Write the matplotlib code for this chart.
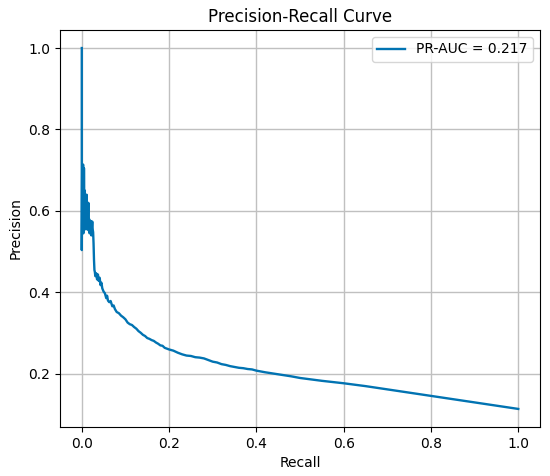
# coding: utf-8
# Import packages
import numpy as np
import matplotlib
matplotlib.use("Agg")
import matplotlib.pyplot as plt


# Recall / precision pairs
recall = [0.000, 0.000, 0.0005, 0.001, 0.0015, 0.002, 0.0025, 0.003, 0.0035,
          0.004, 0.0045, 0.005, 0.006, 0.007, 0.008, 0.009, 0.010, 0.011,
          0.012, 0.013, 0.014, 0.015, 0.016, 0.017, 0.018, 0.019, 0.020,
          0.021, 0.022, 0.023, 0.024, 0.025, 0.026, 0.027, 0.028, 0.029,
          0.030, 0.031, 0.033, 0.035, 0.037, 0.039, 0.041, 0.043, 0.045,
          0.047, 0.050, 0.053, 0.056, 0.058, 0.060, 0.063, 0.066, 0.070,
          0.073, 0.076, 0.080, 0.085, 0.090, 0.095, 0.100, 0.105, 0.110,
          0.115, 0.120, 0.125, 0.130, 0.135, 0.140, 0.145, 0.150, 0.155,
          0.160, 0.165, 0.170, 0.175, 0.180, 0.185, 0.190, 0.200, 0.210,
          0.220, 0.230, 0.240, 0.250, 0.260, 0.270, 0.280, 0.290, 0.300,
          0.310, 0.320, 0.330, 0.340, 0.350, 0.360, 0.370, 0.380, 0.390,
          0.400, 0.420, 0.450, 0.480, 0.500, 0.550, 0.600,
          0.650, 0.700, 0.750, 0.800, 0.850, 0.900, 0.950, 1.000]

precision = [1.000, 0.504, 0.600, 0.712, 0.560, 0.700, 0.590, 0.714, 0.545,
             0.690, 0.570, 0.705, 0.560, 0.650, 0.555, 0.620, 0.570, 0.640,
             0.555, 0.600, 0.560, 0.620, 0.552, 0.580, 0.545, 0.570, 0.555,
             0.575, 0.540, 0.560, 0.574, 0.555, 0.548, 0.520, 0.480, 0.455,
             0.450, 0.440, 0.447, 0.432, 0.444, 0.428, 0.436, 0.418, 0.424,
             0.410, 0.402, 0.398, 0.386, 0.392, 0.380, 0.376, 0.379, 0.366,
             0.368, 0.359, 0.352, 0.349, 0.343, 0.339, 0.334, 0.326, 0.322,
             0.320, 0.315, 0.311, 0.305, 0.301, 0.296, 0.293, 0.288, 0.286,
             0.283, 0.281, 0.277, 0.274, 0.270, 0.269, 0.264, 0.260, 0.257,
             0.252, 0.248, 0.245, 0.244, 0.241, 0.240, 0.238, 0.234, 0.230,
             0.228, 0.224, 0.222, 0.219, 0.217, 0.215, 0.214, 0.212, 0.211,
             0.208, 0.204, 0.199, 0.194, 0.190, 0.183, 0.177,
             0.170, 0.162, 0.154, 0.146, 0.138, 0.130, 0.122, 0.114]

pr_auc = 0.217


def plot_pr_curve(recall, precision, pr_auc, path):
    '''
    ------------------------
    Input: recall, precision, area under curve
    Output: PR curve saved to path
    ------------------------
    '''
    fig = plt.figure(figsize=(5.5, 4.76), dpi=100)
    ax = fig.add_axes([0.109, 0.103, 0.873, 0.834])

    # Plot the curve
    ax.plot(recall, precision, color="#0173b2", linewidth=1.7,
            label="PR-AUC = {:.3f}".format(pr_auc))

    # Add annotations
    ax.set_xlabel("Recall", fontsize=10)
    ax.set_ylabel("Precision", fontsize=10)
    ax.set_title("Precision-Recall Curve", fontsize=12)
    ax.tick_params(labelsize=10)
    ax.grid(True, color="#c0c0c0", linewidth=1.0)
    ax.legend(loc="upper right", fontsize=10)

    fig.savefig(path, dpi=100)


def main():
    plot_pr_curve(recall, precision, pr_auc, "out.png")


if __name__ == '__main__':
    main()
